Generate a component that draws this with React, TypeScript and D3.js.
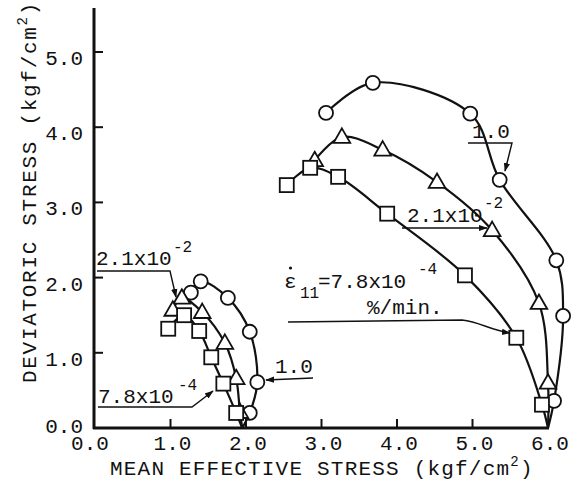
import React from "react";
import * as d3 from "d3";

// ---- data (p = mean effective stress, q = deviatoric stress, kgf/cm2) ----
const xTicks = [0, 1, 2, 3, 4, 5, 6];
const yTicks = [0, 1, 2, 3, 4, 5];

const bigStart: [number, number] = [6.0, 0];
const bigCircle: [number, number][] = [
  [6.08, 0.36], [6.2, 1.49], [6.11, 2.23], [5.36, 3.3], [4.97, 4.18], [3.68, 4.59], [3.06, 4.19],
];
const bigTriangle: [number, number][] = [
  [6.0, 0.6], [5.88, 1.66], [5.26, 2.63], [4.53, 3.27], [3.81, 3.7], [3.27, 3.87], [2.91, 3.56],
];
const bigSquare: [number, number][] = [
  [5.92, 0.31], [5.58, 1.2], [4.9, 2.03], [3.87, 2.85], [3.22, 3.34], [2.85, 3.46], [2.54, 3.23],
];

const smallStart: [number, number] = [1.95, 0];
const smallCircle: [number, number][] = [
  [2.05, 0.2], [2.15, 0.61], [2.05, 1.28], [1.76, 1.73], [1.4, 1.95], [1.27, 1.8],
];
const smallTriangle: [number, number][] = [
  [1.92, 0.21], [1.87, 0.66], [1.72, 1.13], [1.42, 1.54], [1.15, 1.73], [1.03, 1.57],
];
const smallSquare: [number, number][] = [
  [1.87, 0.2], [1.7, 0.59], [1.54, 0.94], [1.38, 1.29], [1.18, 1.5], [0.97, 1.32],
];

const W = 572;
const H = 483;
const FONT = "'Liberation Mono', 'DejaVu Sans Mono', monospace";

const x = d3.scaleLinear().domain([0, 6]).range([95, 548]);
const y = d3.scaleLinear().domain([0, 5]).range([428, 52]);

const line = d3
  .line<[number, number]>()
  .x((d) => x(d[0]))
  .y((d) => y(d[1]))
  .curve(d3.curveCatmullRom.alpha(0.5));

const INK = "#111";

function Circles({ pts }: { pts: [number, number][] }) {
  return (
    <g>
      {pts.map((d, i) => (
        <circle key={i} cx={x(d[0])} cy={y(d[1])} r={7} fill="#fff" stroke={INK} strokeWidth={1.8} />
      ))}
    </g>
  );
}
function Squares({ pts }: { pts: [number, number][] }) {
  const s = 14;
  return (
    <g>
      {pts.map((d, i) => (
        <rect key={i} x={x(d[0]) - s / 2} y={y(d[1]) - s / 2} width={s} height={s} fill="#fff" stroke={INK} strokeWidth={1.8} />
      ))}
    </g>
  );
}
function Triangles({ pts }: { pts: [number, number][] }) {
  const sym = d3.symbol(d3.symbolTriangle, 120)();
  return (
    <g>
      {pts.map((d, i) => (
        <path key={i} d={sym || ""} transform={`translate(${x(d[0])},${y(d[1]) + 1})`} fill="#fff" stroke={INK} strokeWidth={1.8} />
      ))}
    </g>
  );
}

export default function App() {
  const curves = [
    [bigStart, ...bigCircle],
    [bigStart, ...bigTriangle],
    [bigStart, ...bigSquare],
    [smallStart, ...smallCircle],
    [smallStart, ...smallTriangle],
    [smallStart, ...smallSquare],
  ] as [number, number][][];

  const fs = 21;
  return (
    <svg width={W} height={H} style={{ display: "block", position: "absolute", left: 0, top: 0, background: "#fff" }} fontFamily={FONT}>
      <defs>
        <marker id="arr" viewBox="0 0 10 10" refX="9" refY="5" markerWidth="9" markerHeight="9" orient="auto-start-reverse" markerUnits="userSpaceOnUse">
          <path d="M0,1.5 L10,5 L0,8.5 Z" fill={INK} />
        </marker>
      </defs>
      <rect width={W} height={H} fill="#fff" />

      {/* axes */}
      <line x1={94} y1={8} x2={94} y2={429} stroke={INK} strokeWidth={3} />
      <line x1={93} y1={428} x2={549} y2={428} stroke={INK} strokeWidth={3.2} />
      {yTicks.filter((t) => t > 0).map((t) => (
        <line key={t} x1={94} x2={103} y1={y(t)} y2={y(t)} stroke={INK} strokeWidth={2} />
      ))}
      {xTicks.filter((t) => t > 0 && t < 6).map((t) => (
        <line key={t} x1={x(t)} x2={x(t)} y1={428} y2={419} stroke={INK} strokeWidth={2} />
      ))}
      {yTicks.map((t) => (
        <text key={t} x={83} y={t === 0 ? 433 : y(t) + 13} textAnchor="end" fontSize={fs} fill={INK}>
          {d3.format(".1f")(t)}
        </text>
      ))}
      {xTicks.map((t) => (
        <text key={t} x={t === 0 ? 90 : x(t) + 2} y={450} textAnchor="middle" fontSize={fs} fill={INK}>
          {d3.format(".1f")(t)}
        </text>
      ))}

      {/* axis titles */}
      <text x={110} y={475} fontSize={fs} fill={INK} letterSpacing={1.2}>
        MEAN EFFECTIVE STRESS (kgf/cm
        <tspan fontSize={14} dy={-9}>2</tspan>
        <tspan dy={9}>)</tspan>
      </text>
      <text transform="translate(36,383) rotate(-90)" x={0} y={0} fontSize={fs} fill={INK} letterSpacing={1.7}>
        DEVIATORIC STRESS (kgf/cm
        <tspan fontSize={14} dy={-9}>2</tspan>
        <tspan dy={9}>)</tspan>
      </text>

      {/* curves */}
      {curves.map((c, i) => (
        <path key={i} d={line(c) || ""} fill="none" stroke={INK} strokeWidth={2.2} />
      ))}
      <Circles pts={bigCircle} />
      <Triangles pts={bigTriangle} />
      <Squares pts={bigSquare} />
      <Circles pts={smallCircle} />
      <Triangles pts={smallTriangle} />
      <Squares pts={smallSquare} />

      {/* annotations */}
      <g fill={INK} fontSize={fs}>
        <text x={472} y={138}>1.0</text>
        <polyline points="468,143 512,143 505,171" fill="none" stroke={INK} strokeWidth={1.4} markerEnd="url(#arr)" />

        <text x={407} y={222}>2.1x10</text>
        <text x={484} y={208} fontSize={16}>-2</text>
        <polyline points="402,228 487,228" fill="none" stroke={INK} strokeWidth={1.4} markerEnd="url(#arr)" />

        <text x={284} y={288}>ε</text>
        <circle cx={290.5} cy={268} r={1.6} fill={INK} />
        <text x={300} y={298} fontSize={16}>11</text>
        <text x={318} y={288}>=7.8x10</text>
        <text x={418} y={274} fontSize={16}>-4</text>
        <text x={367} y={314}>%/min.</text>
        <path d="M288,322 L462,320 C480,322 490,330 510,333" fill="none" stroke={INK} strokeWidth={1.4} markerEnd="url(#arr)" />

        <text x={275} y={373}>1.0</text>
        <polyline points="313,378 266,380" fill="none" stroke={INK} strokeWidth={1.4} markerEnd="url(#arr)" />

        <text x={96} y={265}>2.1x10</text>
        <text x={173} y={252} fontSize={16}>-2</text>
        <polyline points="97,271 170,271 176,297" fill="none" stroke={INK} strokeWidth={1.4} markerEnd="url(#arr)" />

        <text x={98} y={403}>7.8x10</text>
        <text x={178} y={390} fontSize={16}>-4</text>
        <polyline points="98,407 192,407 213,391" fill="none" stroke={INK} strokeWidth={1.4} markerEnd="url(#arr)" />
      </g>
    </svg>
  );
}
